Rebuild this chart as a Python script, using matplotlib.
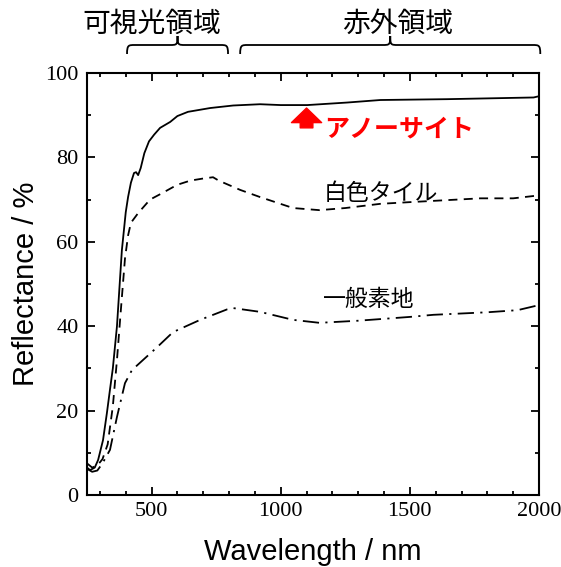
import matplotlib
matplotlib.use("Agg")
import matplotlib.pyplot as plt
from matplotlib.path import Path
from matplotlib.patches import PathPatch
from matplotlib.transforms import blended_transform_factory
from matplotlib.ticker import MultipleLocator

# anorthite (solid)
anorthite_nm = [250, 262, 280, 293, 312, 327, 339, 350, 366, 385, 400, 409, 420, 432,
                440, 448, 458, 472, 490, 510, 533, 572, 600, 641, 727, 816, 920, 1000, 1103,
                1257, 1386, 1645, 1979, 2000]
anorthite_r = [6.5, 5.9, 6.5, 8.3, 13.0, 19.4, 25.0, 30.0, 40.0, 58.0, 67.0, 70.6, 74.0, 76.3,
               76.5, 75.8, 77.5, 81.0, 83.8, 85.4, 87.0, 88.4, 89.8, 90.8, 91.7, 92.3, 92.6,
               92.4, 92.4, 93.0, 93.6, 93.8, 94.2, 94.5]

# white tile (dashed)
tile_nm = [250, 270, 290, 310, 330, 350, 366, 380, 397, 409, 420, 448, 494, 540, 599, 650,
           700, 738, 760, 843, 920, 1048, 1150, 1250, 1386, 1500, 1773, 1900, 2000]
tile_r = [7.5, 6.5, 7.0, 8.5, 12.0, 21.0, 32.0, 43.0, 56.0, 61.5, 64.5, 66.8, 70.0, 71.5,
          73.5, 74.5, 75.0, 75.3, 74.5, 72.3, 70.6, 68.0, 67.5, 68.0, 69.0, 69.4, 70.3,
          70.3, 71.0]

# ordinary body (dash-dot)
body_nm = [250, 270, 290, 310, 339, 366, 397, 424, 467, 521, 583, 688, 793, 815, 850, 920,
           1048, 1150, 1300, 1500, 1591, 1800, 1917, 2000]
body_r = [6.2, 5.5, 5.8, 7.5, 10.7, 18.5, 26.5, 29.6, 32.0, 35.0, 38.6, 41.5, 44.0, 44.3,
          44.0, 43.4, 41.5, 40.8, 41.3, 42.2, 42.7, 43.3, 43.8, 45.0]

region_labels = ["可視光領域", "赤外領域"]
region_spans = [(405, 796), (843, 2005)]
region_text_x = [502, 1451]

curve_labels = ["白色タイル", "一般素地"]
curve_label_pos = [(1165, 71.5), (1165, 46.4)]

serif = "Liberation Serif"
sans = "Liberation Sans"
jp = ["Noto Sans CJK JP", "DejaVu Sans"]

fig = plt.figure(figsize=(5.61, 5.67), dpi=100)
ax = fig.add_axes([87 / 561, 1 - 495 / 567, 452 / 561, 422 / 567])

lw = 1.3
ax.plot(anorthite_nm, anorthite_r, color="black", lw=lw, ls="-")
ax.plot(tile_nm, tile_r, color="black", lw=lw, ls=(0, (5, 3.5)))
ax.plot(body_nm, body_r, color="black", lw=lw, ls=(0, (9, 3.5, 1.2, 3.5)))

ax.set_xlim(250, 2000)
ax.set_ylim(0, 100)
ax.xaxis.set_major_locator(MultipleLocator(500))
ax.xaxis.set_minor_locator(MultipleLocator(100))
ax.yaxis.set_major_locator(MultipleLocator(20))
ax.yaxis.set_minor_locator(MultipleLocator(10))
ax.tick_params(which="both", direction="in", top=True, right=True, width=1.3)
ax.tick_params(which="major", length=6)
ax.tick_params(which="minor", length=3)
ax.tick_params(axis="x", pad=5)
ax.tick_params(axis="y", pad=6)
for lab in ax.get_xticklabels() + ax.get_yticklabels():
    lab.set_fontfamily(serif)
    lab.set_fontsize(16)
for sp in ax.spines.values():
    sp.set_linewidth(1.5)

ax.set_xlabel("Wavelength / nm", fontfamily=sans, fontsize=21, labelpad=12)
ax.set_ylabel("Reflectance / %", fontfamily=sans, fontsize=21, labelpad=4)

# red arrow + anorthite label
ax.annotate("", xy=(1100, 91.7), xytext=(1100, 87.0),
            arrowprops=dict(arrowstyle="simple,head_length=0.75,head_width=1.55,tail_width=0.65",
                            mutation_scale=14, color="red", shrinkA=0, shrinkB=0))
ax.text(1170, 86.7, "アノーサイト", color="red", fontweight="bold", fontsize=18,
        family=jp, ha="left", va="center")

for label, (xl, yl) in zip(curve_labels, curve_label_pos):
    ax.text(xl, yl, label, fontsize=16.5, family=jp, ha="left", va="center")


# braces above the axes
trans = blended_transform_factory(ax.transData, fig.transFigure)


def draw_brace(x0, x1):
    y_end = 1 - 54 / 567
    y_line = 1 - 45 / 567
    y_tip = 1 - 36 / 567
    xm = (x0 + x1) / 2
    r = 30
    verts = [
        (x0, y_end), (x0, y_line), (x0 + r * 0.2, y_line), (x0 + r, y_line),
        (xm - r, y_line), (xm - r * 0.1, y_line), (xm, y_line), (xm, y_tip),
        (xm, y_line), (xm + r * 0.1, y_line), (xm + r, y_line),
        (x1 - r, y_line), (x1 - r * 0.2, y_line), (x1, y_line), (x1, y_end),
    ]
    codes = [Path.MOVETO, Path.CURVE4, Path.CURVE4, Path.CURVE4,
             Path.LINETO, Path.CURVE4, Path.CURVE4, Path.CURVE4,
             Path.CURVE4, Path.CURVE4, Path.CURVE4,
             Path.LINETO, Path.CURVE4, Path.CURVE4, Path.CURVE4]
    patch = PathPatch(Path(verts, codes), transform=trans, fill=False,
                      lw=1.3, edgecolor="black", clip_on=False)
    fig.add_artist(patch)


for label, (x0, x1), xt in zip(region_labels, region_spans, region_text_x):
    draw_brace(x0, x1)
    ax.text(xt, 1 - 24 / 567, label, transform=trans, fontsize=20, family=jp,
            ha="center", va="center")

fig.savefig("out.png", dpi=100)
